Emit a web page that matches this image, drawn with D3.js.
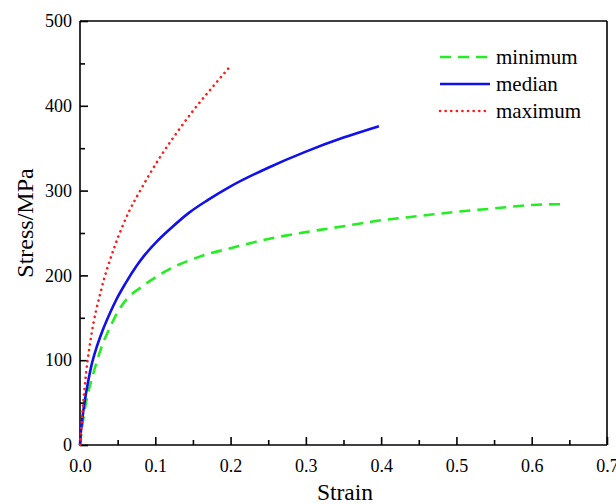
<!DOCTYPE html>
<html>
<head>
<meta charset="utf-8">
<script src="https://cdnjs.cloudflare.com/ajax/libs/d3/7.8.5/d3.min.js"></script>
<style>
  body { margin: 0; background: #ffffff; }
  svg text { font-family: "Liberation Serif", "Times New Roman", serif; fill: #000; }
  .axis path, .axis line { stroke: #000; stroke-width: 1.6px; }
</style>
</head>
<body>
<svg id="chart" width="616" height="504"></svg>
<script>
// strain / stress values
var minimumCurve = [[0,0],[0.0027,20],[0.008,50],[0.017,82],[0.028,114],[0.041,141],[0.05,157],[0.063,173],
  [0.0795,185],[0.101,198],[0.12,208],[0.146,218],[0.173,226],[0.2,232],[0.226,238],[0.25,243],[0.3,251],
  [0.35,258],[0.4,265],[0.45,270],[0.5,275],[0.55,279],[0.6,283],[0.64,284]];
var medianCurve = [[0,0],[0.001,14],[0.002,23],[0.005,44],[0.01,71],[0.015,93],[0.022,115],[0.03,135],
  [0.04,156],[0.048,171],[0.06,190],[0.075,211],[0.085,223],[0.101,239],[0.12,255],[0.145,274],[0.17,289],
  [0.2,305],[0.25,327],[0.3,346],[0.35,362.5],[0.397,376]];
var maximumCurve = [[0,0],[0.0035,41],[0.008,84],[0.015,129],[0.0279,182],[0.0456,233],[0.0655,276],
  [0.08,300],[0.106,339],[0.13,370],[0.15,394],[0.175,421],[0.197,444]];
var seriesNames = ["minimum", "median", "maximum"];
var xTicks = [0, 0.1, 0.2, 0.3, 0.4, 0.5, 0.6, 0.7];
var yTicks = [0, 100, 200, 300, 400, 500];

var svg = d3.select("#chart");
var pLeft = 80, pRight = 607, pTop = 21, pBottom = 445;
var serif = "'Liberation Serif', 'Times New Roman', 'DejaVu Serif', serif";

var x = d3.scaleLinear().domain([0, 0.7]).range([pLeft, pRight]);
var y = d3.scaleLinear().domain([0, 500]).range([pBottom, pTop]);

// frame top/right
svg.append("line").attr("x1", pLeft).attr("x2", pRight).attr("y1", pTop).attr("y2", pTop)
  .attr("stroke", "#000").attr("stroke-width", 1.6);
svg.append("line").attr("x1", pRight).attr("x2", pRight).attr("y1", pTop).attr("y2", pBottom)
  .attr("stroke", "#000").attr("stroke-width", 1.6);

// minor ticks
svg.append("g").attr("class", "axis").attr("transform", "translate(0," + pBottom + ")")
  .call(d3.axisBottom(x).tickValues(d3.range(0.05, 0.7, 0.1)).tickSize(-5).tickFormat(""))
  .select(".domain").remove();
svg.append("g").attr("class", "axis").attr("transform", "translate(" + pLeft + ",0)")
  .call(d3.axisLeft(y).tickValues(d3.range(50, 500, 100)).tickSize(-5).tickFormat(""))
  .select(".domain").remove();

var xAxis = svg.append("g").attr("class", "axis").attr("transform", "translate(0," + pBottom + ")")
  .call(d3.axisBottom(x).tickValues(xTicks).tickSize(-8).tickPadding(14).tickFormat(d3.format(".1f")));
xAxis.select(".domain").attr("d", "M" + pLeft + ",0H" + pRight);

var yAxis = svg.append("g").attr("class", "axis").attr("transform", "translate(" + pLeft + ",0)")
  .call(d3.axisLeft(y).tickValues(yTicks).tickSize(-8).tickPadding(8).tickFormat(d3.format("d")));
yAxis.select(".domain").attr("d", "M0," + pTop + "V" + pBottom);
svg.selectAll(".axis").attr("font-family", serif).attr("font-size", 18);
svg.selectAll(".tick text").style("font-family", serif).attr("font-size", 18);

svg.append("text").attr("x", 345).attr("y", 500).attr("text-anchor", "middle")
  .style("font-family", serif).attr("font-size", 23.5).text("Strain");
svg.append("text").attr("transform", "translate(33,223) rotate(-90)")
  .attr("text-anchor", "middle").style("font-family", serif).attr("font-size", 24).text("Stress/MPa");

var line = d3.line().x(function(d){ return x(d[0]); }).y(function(d){ return y(d[1]); })
  .curve(d3.curveMonotoneX);

var styles = [
  {data: minimumCurve, color: "#22ee22", dash: "11,7", cap: "butt"},
  {data: medianCurve, color: "#1010ee", dash: null, cap: "butt"},
  {data: maximumCurve, color: "#ff1a1a", dash: "0.1,5.5", cap: "round"}
];

styles.forEach(function(s){
  svg.append("path").datum(s.data).attr("d", line)
    .attr("fill", "none").attr("stroke", s.color).attr("stroke-width", 2.6)
    .attr("stroke-dasharray", s.dash).attr("stroke-linecap", s.cap);
});

// legend
var legend = svg.append("g").attr("transform", "translate(440,57)");
seriesNames.forEach(function(name, i){
  var s = styles[i];
  var g = legend.append("g").attr("transform", "translate(0," + (i * 27) + ")");
  g.append("line").attr("x1", 0).attr("x2", 50).attr("y1", 0).attr("y2", 0)
    .attr("stroke", s.color).attr("stroke-width", 2.6)
    .attr("stroke-dasharray", s.dash).attr("stroke-linecap", s.cap);
  g.append("text").attr("x", 56).attr("y", 7).style("font-family", serif).attr("font-size", 21).text(name);
});
</script>
</body>
</html>
